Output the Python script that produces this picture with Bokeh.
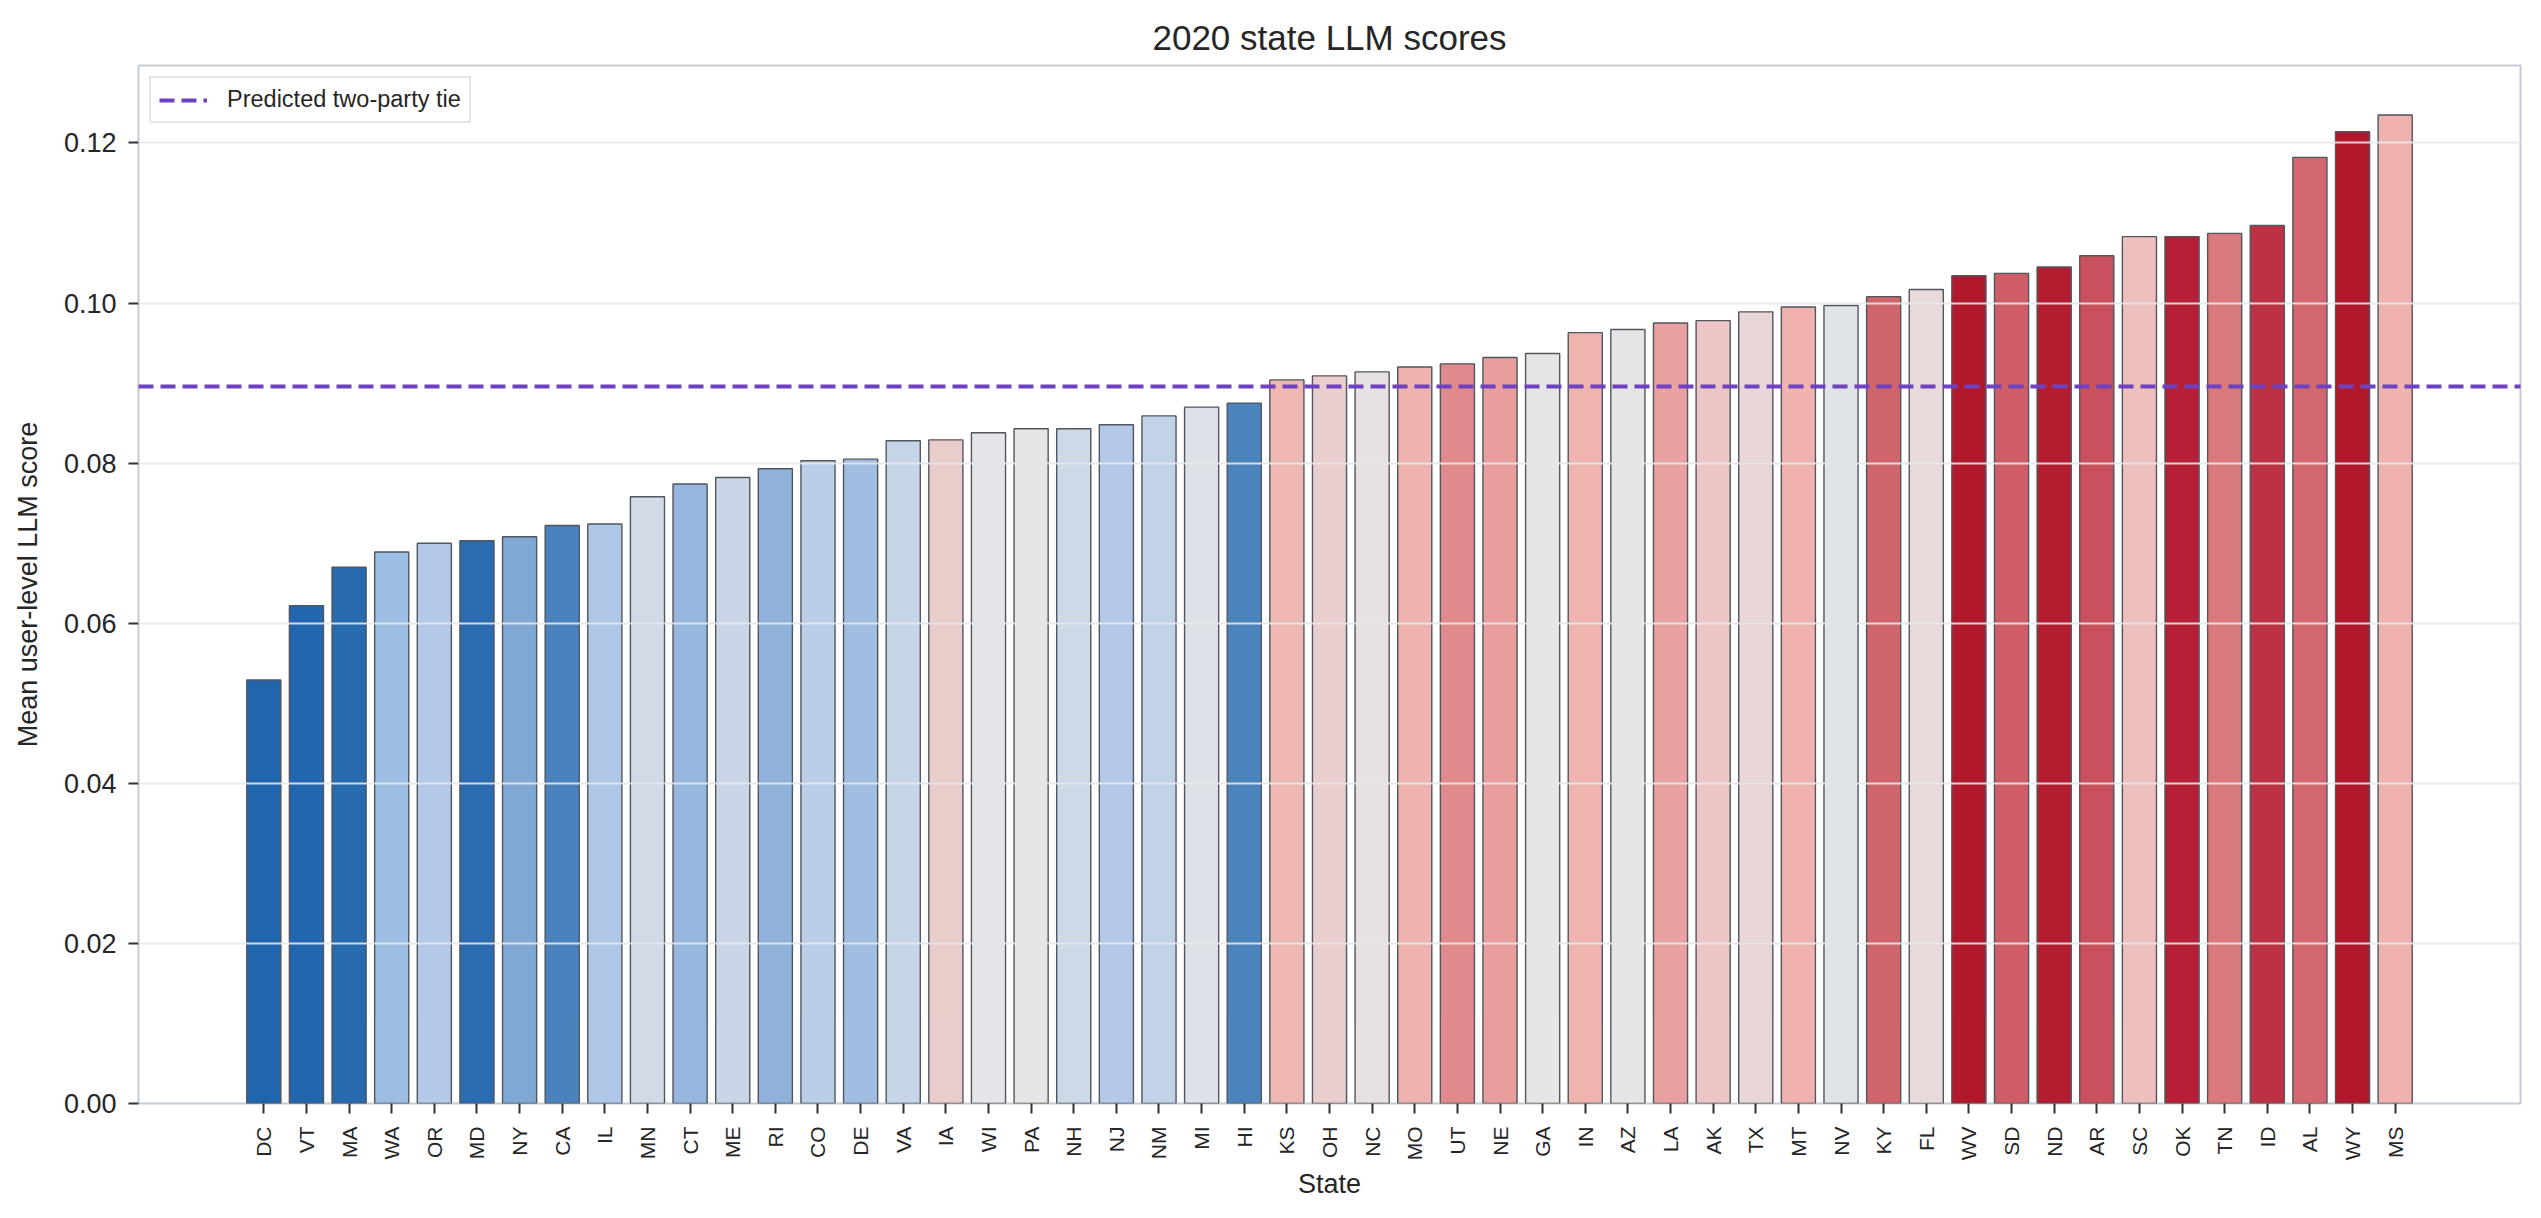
import math
from bokeh.plotting import figure
from bokeh.models import (ColumnDataSource, Range1d, FixedTicker, NumeralTickFormatter,
                          Legend, LegendItem)
from bokeh.embed import file_html
from bokeh.resources import INLINE

states = ["DC", "VT", "MA", "WA", "OR", "MD", "NY", "CA", "IL", "MN", "CT", "ME", "RI",
          "CO", "DE", "VA", "IA", "WI", "PA", "NH", "NJ", "NM", "MI", "HI", "KS", "OH",
          "NC", "MO", "UT", "NE", "GA", "IN", "AZ", "LA", "AK", "TX", "MT", "NV", "KY",
          "FL", "WV", "SD", "ND", "AR", "SC", "OK", "TN", "ID", "AL", "WY", "MS"]

scores = [0.0529, 0.0622, 0.0670, 0.0689, 0.0700, 0.0703, 0.0708, 0.0722, 0.0724,
          0.0758, 0.0774, 0.0782, 0.0793, 0.0803, 0.0805, 0.0828, 0.0829, 0.0838,
          0.0843, 0.0843, 0.0848, 0.0859, 0.0870, 0.0875, 0.0904, 0.0909, 0.0914,
          0.0920, 0.0924, 0.0932, 0.0937, 0.0963, 0.0967, 0.0975, 0.0978, 0.0989,
          0.0995, 0.0997, 0.1008, 0.1017, 0.1034, 0.1037, 0.1045, 0.1059, 0.1083,
          0.1083, 0.1087, 0.1097, 0.1182, 0.1214, 0.1235]

bar_colors = ["#2166ac", "#2267ad", "#276bae", "#9dbde2", "#b4c9e7", "#2a6caf", "#7fa8d4",
              "#4a82bd", "#b0c8e7", "#d1dae6", "#98b7de", "#cad6e7", "#8fb1da", "#bbcee7",
              "#a1bee2", "#c7d5e8", "#eacdcb", "#e5e6e9", "#e6e6e7", "#cdd9e6", "#b4c9e8",
              "#c2d3e9", "#dee2e8", "#4b83bd", "#efb7b1", "#eacdcd", "#e8e1e2", "#eeb3af",
              "#e08a8c", "#e89e9c", "#e6e6e6", "#efb4ae", "#e6e6e6", "#e8a19f", "#ecc6c4",
              "#e9d6d6", "#f0b2ac", "#e0e3e8", "#d0646b", "#e9dada", "#b2182b", "#cf5d66",
              "#b31d30", "#c9505c", "#edc0be", "#b61f35", "#d97a7d", "#bd3243", "#d4686f",
              "#b2182b", "#f0b2ae"]

tie_value = 0.0896
y_ticks = [0.00, 0.02, 0.04, 0.06, 0.08, 0.10, 0.12]

FONT = "Liberation Sans"
TXT = "#262626"
SPINE = "#c5cbd3"
TIE_COLOR = "#6f42c1"

n = len(states)
idx = list(range(n))
bar_w = 0.8
span_x = (n - 1) + bar_w
x0 = -bar_w / 2 - 0.05 * span_x
x1 = (n - 1) + bar_w / 2 + 0.05 * span_x
y1 = max(scores) * 1.05

src = ColumnDataSource(dict(x=idx, top=scores, state=states, color=bar_colors))

p = figure(width=2525, height=1202, output_backend="svg", toolbar_location=None,
           x_range=Range1d(x0, x1), y_range=Range1d(0, y1),
           min_border_left=138, min_border_right=5, min_border_top=65,
           min_border_bottom=99, title="2020 state LLM scores")

p.vbar(x="x", top="top", width=bar_w, source=src, fill_color="color",
       line_color="#50565e", line_width=1.4)

tie_r = p.hspan(y=[tie_value], line_color=TIE_COLOR, line_width=4, line_dash="15 7")
tie_r.level = "annotation"

legend = Legend(items=[LegendItem(label="Predicted two-party tie", renderers=[tie_r])],
                location="top_left")
legend.margin = 11
legend.padding = 8
legend.spacing = 0
legend.glyph_width = 48
legend.glyph_height = 24
legend.label_standoff = 20
legend.label_text_font = FONT
legend.label_text_font_size = "23.5px"
legend.label_text_color = TXT
legend.border_line_color = "#cccccc"
legend.border_line_width = 2
legend.background_fill_color = "white"
legend.background_fill_alpha = 0.85
p.add_layout(legend)

# title
p.title.text_font = FONT
p.title.text_font_size = "35px"
p.title.text_font_style = "normal"
p.title.text_color = TXT
p.title.align = "center"
p.title.standoff = 17

p.background_fill_color = "white"
p.border_fill_color = "white"
p.outline_line_color = SPINE
p.outline_line_width = 2

# grid
p.xgrid.grid_line_color = None
p.ygrid.ticker = FixedTicker(ticks=y_ticks)
p.ygrid.grid_line_color = "#e4e7eb"
p.ygrid.grid_line_width = 2
p.ygrid.grid_line_alpha = 0.9
p.ygrid.level = "guide"

# x axis
xa = p.xaxis[0]
xa.ticker = FixedTicker(ticks=idx)
xa.major_label_overrides = {i: s for i, s in zip(idx, states)}
xa.major_label_orientation = math.pi / 2
xa.major_label_text_font = FONT
xa.major_label_text_font_size = "21px"
xa.major_label_text_color = TXT
xa.major_label_standoff = 13
xa.minor_tick_line_color = None
xa.major_tick_in = 0
xa.major_tick_out = 10
xa.major_tick_line_width = 2
xa.major_tick_line_color = "#333333"
xa.axis_line_color = None
xa.axis_label = "State"
xa.axis_label_text_font = FONT
xa.axis_label_text_font_size = "27px"
xa.axis_label_text_font_style = "normal"
xa.axis_label_text_color = TXT
xa.axis_label_standoff = 6

# y axis
ya = p.yaxis[0]
ya.ticker = FixedTicker(ticks=y_ticks)
ya.formatter = NumeralTickFormatter(format="0.00")
ya.major_label_text_font = FONT
ya.major_label_text_font_size = "27px"
ya.major_label_text_color = TXT
ya.major_label_standoff = 12
ya.minor_tick_line_color = None
ya.major_tick_in = 0
ya.major_tick_out = 10
ya.major_tick_line_width = 2
ya.major_tick_line_color = "#333333"
ya.axis_line_color = None
ya.axis_label = "Mean user-level LLM score"
ya.axis_label_text_font = FONT
ya.axis_label_text_font_size = "27px"
ya.axis_label_text_font_style = "normal"
ya.axis_label_text_color = TXT
ya.axis_label_standoff = 18

open("out.html", "w").write(file_html(p, INLINE))
